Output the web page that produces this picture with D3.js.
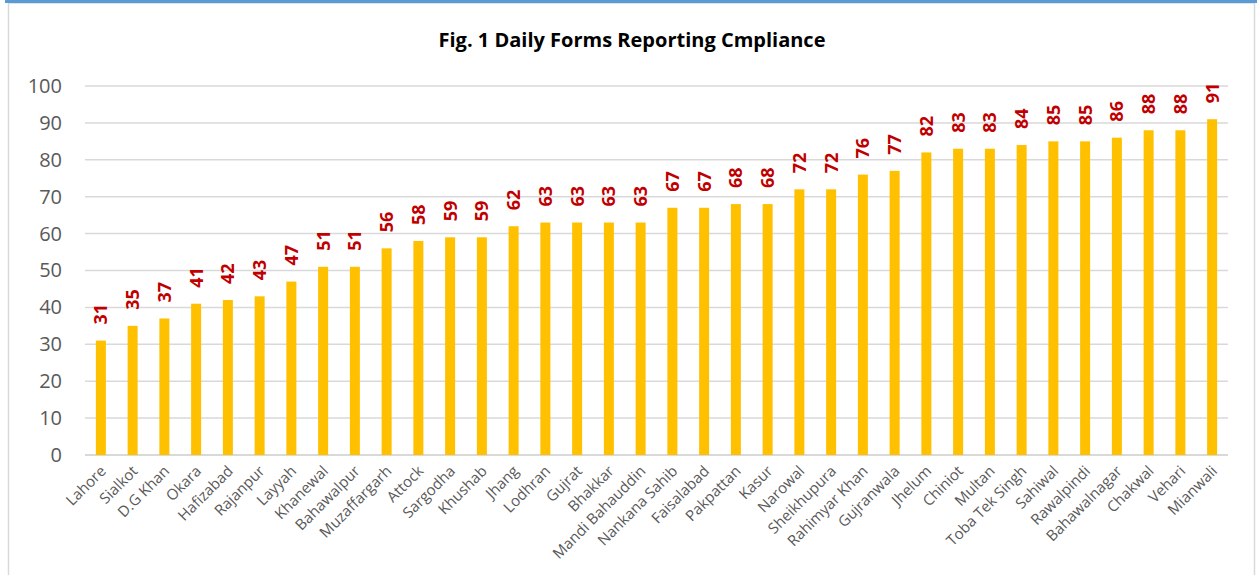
<!DOCTYPE html>
<html>
<head>
<meta charset="utf-8">
<script src="https://cdn.jsdelivr.net/npm/d3@7"></script>
<style>
body{margin:0;background:#fff;}
svg{display:block;}
</style>
</head>
<body>
<div class="container"></div>
<script>
var width=1257;
var height=575;

var districts=["Lahore","Sialkot","D.G Khan","Okara","Hafizabad","Rajanpur","Layyah","Khanewal","Bahawalpur","Muzaffargarh","Attock","Sargodha","Khushab","Jhang","Lodhran","Gujrat","Bhakkar","Mandi Bahauddin","Nankana Sahib","Faisalabad","Pakpattan","Kasur","Narowal","Sheikhupura","Rahimyar Khan","Gujranwala","Jhelum","Chiniot","Multan","Toba Tek Singh","Sahiwal","Rawalpindi","Bahawalnagar","Chakwal","Vehari","Mianwali"];
var compliance=[31,35,37,41,42,43,47,51,51,56,58,59,59,62,63,63,63,63,67,67,68,68,72,72,76,77,82,83,83,84,85,85,86,88,88,91];
var yTicks=[0,10,20,30,40,50,60,70,80,90,100];
var title="Fig. 1 Daily Forms Reporting Cmpliance";

var svg=d3.select(".container").append("svg").attr("width",width).attr("height",height);

// frame like the excel chart box
svg.append("rect").attr("x",8.5).attr("y",3).attr("width",1246).attr("height",600)
    .attr("fill","#fff").attr("stroke","#d9d9d9").attr("stroke-width",1.5);
svg.append("rect").attr("x",5).attr("y",0).attr("width",1252).attr("height",3).attr("fill","#5b9bd5");

svg.append("text")
    .attr("x",632).attr("y",47)
    .attr("text-anchor","middle")
    .attr("font-family","Open Sans")
    .attr("font-weight","bold")
    .attr("font-size","20px")
    .attr("fill","#000")
    .text(title);

var x=d3.scaleBand()
        .domain(districts)
        .range([85,1228])
        .paddingInner(0.685)
        .paddingOuter(0.3425);

var y=d3.scaleLinear()
        .domain([0,100])
        .range([455,86]);

var chartGroup=svg.append("g");

// gridlines
chartGroup.selectAll("line.grid")
    .data(yTicks)
    .enter().append("line")
    .attr("class","grid")
    .attr("x1",85).attr("x2",1228)
    .attr("y1",function(d){ return y(d);})
    .attr("y2",function(d){ return y(d);})
    .attr("stroke","#d9d9d9")
    .attr("stroke-width",function(d){ return d==0 ? 2 : 1.5;});

var yAxis=d3.axisLeft(y).tickValues(yTicks).tickSize(0).tickPadding(0);
var yG=chartGroup.append("g")
    .attr("class","axis y")
    .attr("transform","translate(62,0)")
    .call(yAxis);
yG.select(".domain").remove();
yG.selectAll("text")
    .attr("font-family","Open Sans")
    .attr("font-size","20px")
    .attr("fill","#595959");

chartGroup.selectAll("rect.bar")
    .data(compliance)
    .enter().append("rect")
    .attr("class","bar")
    .attr("x",function(d,i){ return x(districts[i]);})
    .attr("y",function(d){ return y(d);})
    .attr("width",x.bandwidth())
    .attr("height",function(d){ return y(0)-y(d);})
    .attr("fill","#ffc000");

// value labels, rotated
chartGroup.selectAll("text.val")
    .data(compliance)
    .enter().append("text")
    .attr("class","val")
    .attr("transform",function(d,i){
        var cx=x(districts[i])+x.bandwidth()/2+6.5;
        return "translate("+cx+","+(y(d)-16)+") rotate(-90)";
    })
    .attr("font-family","Open Sans")
    .attr("font-weight","bold")
    .attr("font-size","18px")
    .attr("fill","#c00000")
    .text(function(d){ return d;});

var xAxis=d3.axisBottom(x).tickSize(0).tickPadding(0);
var xG=chartGroup.append("g")
    .attr("class","axis x")
    .attr("transform","translate(0,455)")
    .call(xAxis);
xG.select(".domain").remove();
xG.selectAll("text")
    .attr("font-family","Open Sans")
    .attr("font-size","15px")
    .attr("fill","#595959")
    .attr("text-anchor","end")
    .attr("dy","0")
    .attr("transform","translate(6,17) rotate(-45)");
</script>
</body>
</html>
